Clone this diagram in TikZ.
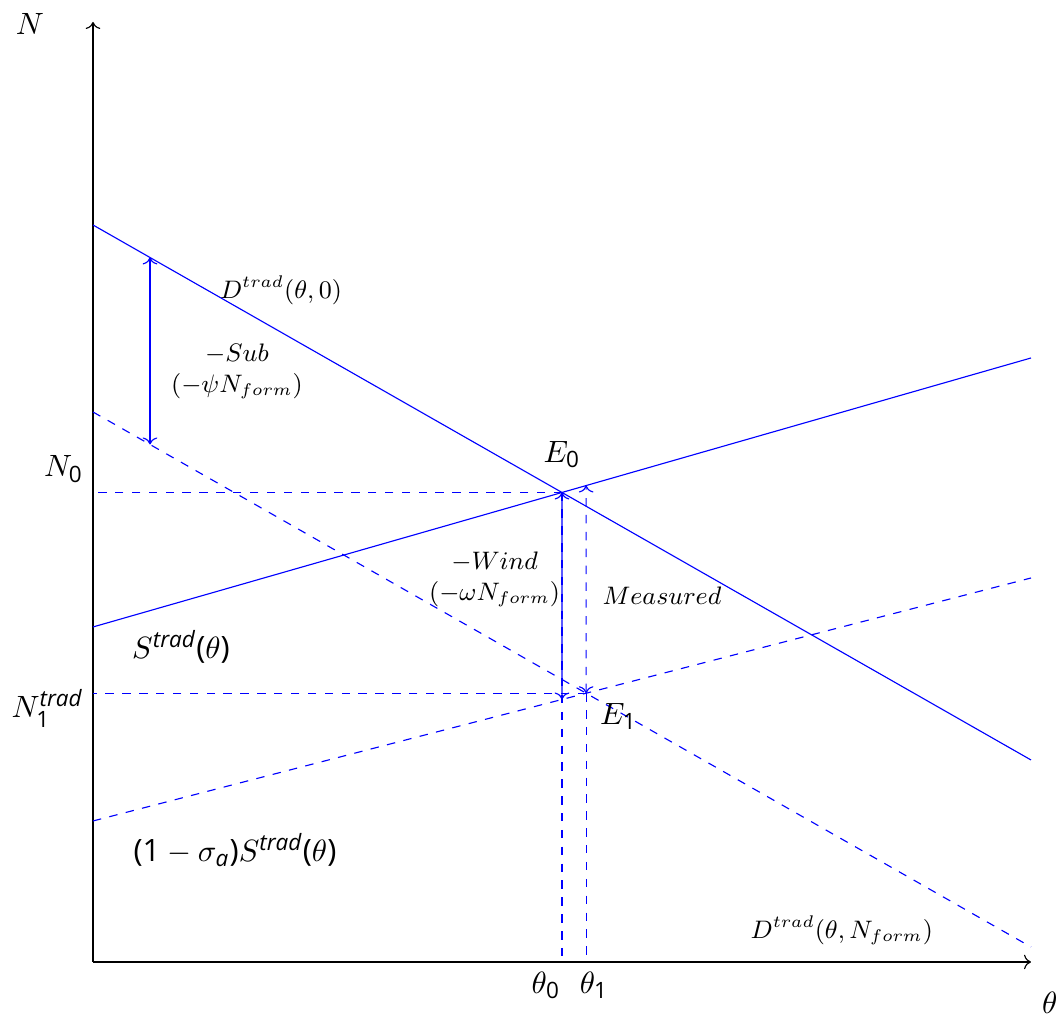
\documentclass[tikz,border=0pt]{standalone}
\usepackage{amsmath}
\usepackage{fontspec}
\setmainfont{Open Sans}
\usetikzlibrary{arrows.meta, positioning, calc}

\begin{document}
\begin{tikzpicture}[
  curve/.style={blue},
  shifted/.style={blue, dashed},
  guide/.style={blue, dashed},
  gap/.style={<->, blue},
  axis/.style={->, black},
  lab/.style={font=\fontsize{10.95}{13}\selectfont},
  note/.style={font=\fontsize{9}{11}\selectfont, align=center}
]
\useasboundingbox (-1.1625,-0.6875) rectangle (12.1,12.025);
% axes
\coordinate (o) at (0,0);
\coordinate (xend) at (11.725,0);
\coordinate (yend) at (0,11.75);
\draw[axis] (o) -- (xend);
\draw[axis] (o) -- (yend);
\node[lab] (nlab) at (-0.79,11.72) {$N$};
\node[lab] (thlab) at (11.96,-0.51) {$\theta$};
% demand and supply
\coordinate (d0) at (0,9.2125);
\coordinate (d1) at (11.725,2.525);
\coordinate (dd0) at (0,6.875);
\coordinate (dd1) at (11.725,0.1875);
\coordinate (s0) at (0,4.1875);
\coordinate (s1) at (11.725,7.55);
\coordinate (sd0) at (0,1.7625);
\coordinate (sd1) at (11.725,4.8);
\draw[curve] (d0) -- (d1);
\draw[shifted] (dd0) -- (dd1);
\draw[curve] (s0) -- (s1);
\draw[shifted] (sd0) -- (sd1);
% equilibria
\coordinate (E0) at (intersection of d0--d1 and s0--s1);
\coordinate (E1) at (intersection of dd0--dd1 and sd0--sd1);
\coordinate (n0) at (o |- E0);
\coordinate (t0) at (E0 |- o);
\coordinate (n1) at (o |- E1);
\coordinate (t1) at (E1 |- o);
\draw[guide] (E0) -- (n0);
\draw[guide] (E0) -- (t0);
\draw[guide] (E1) -- (n1);
\draw[guide] (E1) -- (t1);
% gaps
\coordinate (u0) at (0.7125,0);
\coordinate (u1) at (0.7125,1);
\coordinate (sub0) at (intersection of u0--u1 and d0--d1);
\coordinate (sub1) at (intersection of u0--u1 and dd0--dd1);
\coordinate (wind1) at (intersection of E0--t0 and sd0--sd1);
\coordinate (meas1) at (intersection of E1--t1 and s0--s1);
\draw[gap] (sub0) -- (sub1);
\draw[gap] (E0) -- (wind1);
\draw[gap, dashed] (E1) -- (meas1);
% labels
\node[note] (dlab) at (2.35,8.4) {$D^{trad}(\theta,0)$};
\node[note] (sublab) at (1.8,7.38) {$-Sub$\\$(-\psi N_{form})$};
\node[note] (windlab) at (5.02,4.78) {$-Wind$\\$(-\omega N_{form})$};
\node[note] (measlab) at (7.1125,4.575) {$Measured$};
\node[note] (ddlab) at (9.36,0.4) {$D^{trad}(\theta,N_{form})$};
\node[lab, above=0.18cm of E0] (e0lab) {$E_{\text{0}}$};
\node[lab, below right=0cm and 0.05cm of E1] (e1lab) {$E_{\text{1}}$};
\node[lab, above left] (n0lab) at (n0) {$N_{\text{0}}$};
\node[lab, left=0pt of n1, yshift=-0.19cm] (n1lab) {$N_{\text{1}}^{\textit{trad}}$};
\node[lab] (slab) at (1.1,3.94) {$S^{\textit{trad}}\text{(}\theta\text{)}$};
\node[lab] (sdlab) at (1.775,1.4) {$\text{(1}-\sigma_{\textit{a}}\text{)}S^{\textit{trad}}\text{(}\theta\text{)}$};
\node[lab, below=0cm of t0, xshift=-0.2cm] (t0lab) {$\theta_{\text{0}}$};
\node[lab, below=0cm of t1, xshift=0.1cm] (t1lab) {$\theta_{\text{1}}$};
\end{tikzpicture}
\end{document}
